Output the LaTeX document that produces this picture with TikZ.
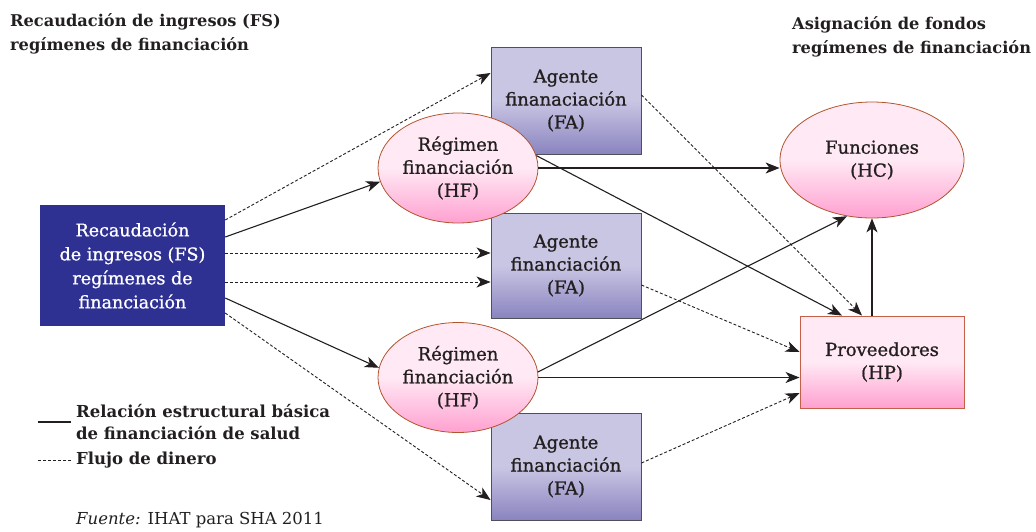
\documentclass[tikz,border=0pt]{standalone}
\usepackage{fontspec}
\setmainfont{DejaVu Serif}
\newfontfamily\medio{DejaVu Serif}[FakeBold=0.9]
\usetikzlibrary{arrows.meta,shapes.geometric}
\definecolor{ink}{RGB}{35,31,32}
\definecolor{fsblue}{RGB}{46,49,146}
\definecolor{agtop}{RGB}{201,198,228}
\definecolor{agbot}{RGB}{138,132,191}
\definecolor{agborder}{RGB}{80,80,90}
\definecolor{pktop}{RGB}{255,233,244}
\definecolor{pkbot}{RGB}{255,160,208}
\definecolor{pkborder}{RGB}{178,85,46}
\definecolor{provborder}{RGB}{196,96,74}
\begin{document}
\begin{tikzpicture}[
		x=1pt,y=-1pt,
		txt/.style={font=\medio\fontsize{18}{23}\selectfont,text=ink,align=center},
		titulo/.style={font=\bfseries\fontsize{16.2}{24}\selectfont,text=ink,align=left,inner sep=0pt},
		leyenda/.style={font=\bfseries\fontsize{16.5}{22}\selectfont,text=ink,align=left,inner sep=0pt},
		agente/.style={txt,draw=agborder,line width=0.9pt,top color=agtop,bottom color=agbot,middle color=agtop,minimum width=150pt,minimum height=107pt},
		regimen/.style={txt,ellipse,draw=pkborder,line width=0.8pt,top color=pktop,bottom color=pkbot,middle color=pktop,minimum width=160pt,minimum height=110pt,inner sep=0pt},
		relacion/.style={draw=ink,line width=1.1pt,-{Stealth[length=14pt,width=11pt,inset=4pt]}},
		flujo/.style={draw=ink,line width=0.9pt,dash pattern=on 3pt off 2pt,-{Stealth[length=14pt,width=11pt,inset=4pt]}}
	]
	\useasboundingbox (0,0) rectangle (1036,531);
	\node[titulo,anchor=north west] (titfs) at (10,13) {Recaudación de ingresos (FS)\\regímenes de financiación};
	\node[titulo,anchor=north west] (titasig) at (792,16) {Asignación de fondos\\regímenes de financiación};
	\node[txt,font=\medio\fontsize{17.5}{24}\selectfont,fill=fsblue,text=white,minimum width=185pt,minimum height=121pt] (fs) at (132.5,265.5) {Recaudación\\de ingresos (FS)\\regímenes de\\financiación};
	\node[agente] (fa1) at (566,100.5) {Agente\\finanaciación\\(FA)};
	\node[agente,minimum height=105pt] (fa2) at (566,265.5) {Agente\\financiación\\(FA)};
	\node[agente] (fa3) at (566,466.5) {Agente\\financiación\\(FA)};
	\node[regimen] (hf1) at (458,168) {Régimen\\financiación\\(HF)};
	\node[regimen] (hf2) at (458,377.5) {Régimen\\financiación\\(HF)};
	\node[regimen,minimum width=184pt,minimum height=116pt] (hc) at (872,160) {Funciones\\(HC)};
	\node[txt,draw=provborder,line width=0.9pt,top color=pktop,bottom color=pkbot,middle color=pktop,minimum width=164pt,minimum height=92pt] (hp) at (882,362) {Proveedores\\(HP)};
	\draw[flujo] ([yshift=45.5pt]fs.east) -- ([yshift=27.5pt]fa1.west);
	\draw[relacion] ([yshift=28.5pt]fs.east) -- (hf1.190);
	\draw[flujo] ([yshift=12.5pt]fs.east) -- ([yshift=12.5pt]fa2.west);
	\draw[flujo] ([yshift=-16.5pt]fs.east) -- ([yshift=-16.5pt]fa2.west);
	\draw[relacion] ([yshift=-32.5pt]fs.east) -- (hf2.173);
	\draw[flujo] ([yshift=-47.5pt]fs.east) -- ([yshift=-33.5pt]fa3.west);
	\draw[flujo] ([yshift=5.5pt]fa1.east) -- ([xshift=-20pt]hp.north);
	\draw[relacion] (hf1.east) -- (hf1.east -| hc.west);
	\draw[relacion] (hf1.9) -- ([xshift=-40pt]hp.north);
	\draw[flujo] ([yshift=-19.5pt]fa2.east) -- ([yshift=10pt]hp.west);
	\draw[relacion] (hf2.4) -- (hc.246);
	\draw[relacion] (hf2.east) -- (hf2.east -| hp.west);
	\draw[flujo] ([yshift=3.5pt]fa3.east) -- ([yshift=-31pt]hp.west);
	\draw[relacion] (hp.north -| hc.south) -- (hc.south);
	\node[leyenda,anchor=west] (leyrel) at (76,422) {Relación estructural básica\\de financiación de salud};
	\node[leyenda,anchor=west] (leyflujo) at (76,460) {Flujo de dinero};
	\draw[draw=ink,line width=1.1pt] ([xshift=-5pt]leyrel.west) -- ++(-33,0);
	\draw[draw=ink,line width=0.9pt,dash pattern=on 3pt off 2pt] ([xshift=-5pt]leyflujo.west) -- ++(-33,0);
	\node[anchor=west,inner sep=0pt,text=ink,font=\fontsize{16.5}{20}\selectfont] (fuente) at (76,520) {\textit{Fuente:} IHAT para SHA 2011};
\end{tikzpicture}
\end{document}
